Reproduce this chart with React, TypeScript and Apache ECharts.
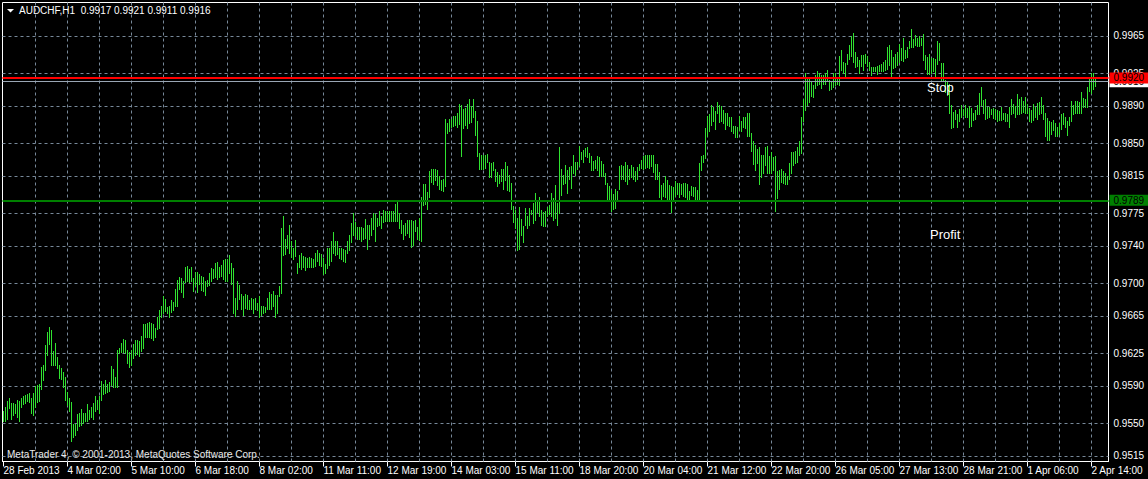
import React, { useEffect, useRef } from "react";
import * as echarts from "echarts";

const SYMBOL = "AUDCHF,H1";
const LAST_OHLC = [0.9917, 0.9921, 0.9911, 0.9916];
const TIME_LABELS = [
  "28 Feb 2013", "4 Mar 02:00", "5 Mar 10:00", "6 Mar 18:00", "8 Mar 02:00",
  "11 Mar 11:00", "12 Mar 19:00", "14 Mar 03:00", "15 Mar 11:00", "18 Mar 20:00",
  "20 Mar 04:00", "21 Mar 12:00", "22 Mar 20:00", "26 Mar 05:00", "27 Mar 13:00",
  "28 Mar 21:00", "1 Apr 06:00", "2 Apr 14:00",
];
const BARS_PER_LABEL = 32;
const BARS_PER_GRID = 16;
const SHIFT_SLOTS = 6;
const PRICE_TICKS = [
  "0.9965", "0.9925", "0.9890", "0.9850", "0.9815", "0.9775", "0.9740",
  "0.9700", "0.9665", "0.9625", "0.9590", "0.9550", "0.9515",
];
const STOP_PRICE = 0.992;
const PROFIT_PRICE = 0.9789;
const BID_PRICE = 0.9916;
const Y_MIN = 0.950909;
const Y_MAX = 1.000089;
const PIP = 0.0001;

// hourly bar highs, in pips
const HIGH_PIPS = [
  9563,9568,9574,9577,9572,9572,9571,9575,9574,9577,
  9579,9580,9581,9583,9577,9583,9590,9591,9592,9610,
  9612,9634,9648,9653,9650,9628,9636,9621,9613,9609,
  9605,9600,9584,9577,9573,9549,9549,9560,9561,9565,
  9561,9561,9571,9564,9568,9572,9579,9575,9579,9595,
  9592,9596,9592,9594,9611,9608,9600,9629,9631,9636,
  9640,9639,9629,9626,9629,9635,9639,9639,9638,9644,
  9656,9656,9658,9659,9658,9656,9652,9664,9671,9676,
  9686,9683,9675,9676,9682,9680,9694,9704,9707,9706,
  9703,9718,9719,9715,9718,9706,9712,9712,9710,9708,
  9707,9702,9704,9711,9716,9715,9722,9723,9718,9720,
  9725,9726,9726,9730,9722,9716,9684,9702,9698,9689,
  9686,9689,9687,9682,9684,9683,9684,9679,9686,9676,
  9676,9675,9684,9691,9689,9692,9687,9688,9697,9759,
  9772,9747,9752,9763,9745,9738,9746,9722,9730,9732,
  9729,9728,9727,9728,9727,9726,9732,9736,9732,9731,
  9727,9721,9738,9738,9745,9755,9745,9745,9738,9738,
  9737,9736,9745,9752,9765,9775,9766,9760,9760,9760,
  9759,9769,9763,9763,9770,9775,9774,9770,9778,9772,
  9779,9777,9777,9778,9777,9777,9785,9787,9775,9768,
  9763,9765,9768,9768,9768,9767,9768,9760,9770,9793,
  9806,9806,9798,9820,9822,9822,9822,9821,9815,9811,
  9812,9876,9872,9876,9876,9879,9879,9883,9892,9891,
  9887,9888,9892,9897,9890,9897,9885,9874,9840,9837,
  9837,9838,9839,9830,9829,9830,9822,9819,9816,9823,
  9822,9830,9826,9816,9807,9783,9779,9770,9782,9769,
  9761,9781,9772,9781,9779,9786,9797,9787,9793,9779,
  9776,9777,9782,9784,9797,9791,9805,9786,9846,9823,
  9816,9827,9821,9825,9826,9837,9830,9830,9847,9841,
  9843,9845,9846,9840,9836,9831,9832,9836,9835,9831,
  9828,9818,9807,9804,9800,9796,9801,9799,9826,9827,
  9826,9830,9827,9823,9827,9825,9820,9825,9828,9832,
  9836,9837,9837,9838,9837,9837,9828,9828,9819,9805,
  9807,9815,9811,9805,9804,9803,9810,9808,9807,9806,
  9807,9808,9806,9799,9804,9803,9803,9800,9829,9836,
  9837,9866,9879,9881,9891,9889,9885,9894,9891,9890,
  9886,9883,9882,9878,9878,9869,9869,9867,9879,9874,
  9878,9878,9883,9883,9861,9853,9848,9844,9846,9838,
  9838,9846,9847,9836,9841,9835,9836,9820,9821,9822,
  9820,9818,9815,9829,9841,9841,9842,9846,9853,9878,
  9898,9925,9921,9919,9917,9913,9923,9927,9925,9923,
  9923,9925,9929,9918,9916,9925,9925,9920,9944,9950,
  9937,9936,9946,9955,9965,9968,9948,9942,9939,9945,
  9945,9946,9944,9937,9932,9932,9932,9933,9934,9935,
  9937,9939,9953,9955,9950,9943,9946,9948,9956,9952,
  9963,9950,9953,9960,9973,9962,9966,9963,9965,9963,
  9967,9945,9943,9946,9941,9941,9940,9960,9958,9936,
  9936,9918,9916,9914,9891,9884,9886,9881,9887,9891,
  9887,9891,9888,9890,9888,9883,9886,9891,9904,9910,
  9896,9897,9889,9889,9887,9888,9887,9886,9885,9889,
  9883,9883,9881,9889,9897,9892,9890,9903,9898,9900,
  9895,9900,9892,9888,9886,9892,9889,9893,9894,9900,
  9891,9883,9877,9874,9873,9875,9872,9867,9872,9881,
  9882,9878,9874,9878,9895,9891,9895,9895,9894,9905,
  9899,9898,9910,9919,9925,9925,9921,
];

// hourly bar lows, in pips
const LOW_PIPS = [
  9553,9552,9555,9566,9555,9559,9561,9557,9553,9568,
  9571,9572,9574,9573,9561,9559,9568,9573,9574,9587,
  9596,9607,9623,9635,9612,9612,9613,9609,9599,9597,
  9589,9575,9570,9563,9531,9535,9538,9543,9547,9548,
  9550,9553,9553,9555,9557,9555,9563,9565,9561,9575,
  9581,9582,9584,9585,9591,9589,9589,9589,9625,9626,
  9626,9625,9615,9610,9613,9620,9623,9624,9622,9628,
  9631,9643,9643,9642,9641,9639,9642,9651,9652,9664,
  9668,9670,9668,9664,9669,9671,9676,9676,9694,9691,
  9685,9701,9702,9701,9702,9692,9698,9691,9699,9693,
  9692,9688,9697,9698,9703,9706,9707,9705,9707,9708,
  9705,9703,9703,9711,9699,9668,9665,9672,9683,9672,
  9666,9674,9672,9673,9673,9668,9672,9671,9664,9666,
  9668,9669,9672,9673,9672,9676,9664,9668,9686,9690,
  9730,9731,9738,9732,9728,9726,9729,9711,9717,9715,
  9717,9714,9717,9718,9717,9717,9719,9724,9720,9719,
  9710,9711,9716,9720,9724,9732,9730,9731,9727,9726,
  9724,9723,9732,9736,9744,9752,9751,9747,9748,9745,
  9747,9749,9737,9748,9752,9758,9745,9761,9762,9759,
  9766,9767,9767,9767,9767,9767,9767,9767,9759,9754,
  9748,9752,9754,9750,9739,9741,9756,9748,9746,9745,
  9784,9785,9780,9793,9809,9806,9811,9805,9801,9800,
  9799,9804,9861,9863,9868,9869,9870,9868,9871,9836,
  9866,9870,9866,9872,9873,9878,9859,9836,9822,9822,
  9822,9824,9830,9814,9814,9821,9810,9804,9807,9810,
  9801,9811,9800,9799,9780,9766,9759,9736,9737,9752,
  9744,9763,9759,9763,9774,9765,9768,9776,9772,9763,
  9761,9761,9772,9774,9772,9768,9770,9762,9775,9795,
  9806,9807,9797,9812,9802,9818,9816,9822,9827,9833,
  9830,9836,9835,9830,9821,9821,9824,9821,9815,9815,
  9815,9806,9789,9790,9777,9780,9781,9790,9801,9812,
  9812,9810,9806,9812,9814,9812,9810,9812,9821,9824,
  9823,9824,9825,9824,9826,9819,9812,9812,9793,9790,
  9794,9793,9790,9790,9776,9788,9794,9796,9793,9796,
  9794,9792,9790,9790,9795,9794,9790,9790,9790,9821,
  9830,9834,9858,9863,9870,9874,9865,9882,9873,9874,
  9872,9865,9870,9869,9863,9861,9857,9857,9864,9863,
  9867,9866,9858,9858,9842,9828,9821,9829,9806,9814,
  9818,9827,9818,9818,9818,9821,9777,9791,9801,9809,
  9807,9806,9806,9812,9818,9827,9829,9830,9837,9840,
  9874,9886,9891,9894,9901,9900,9909,9912,9914,9909,
  9914,9914,9917,9907,9908,9910,9912,9914,9913,9929,
  9925,9921,9935,9940,9944,9937,9932,9933,9925,9933,
  9929,9936,9933,9929,9923,9927,9927,9924,9927,9927,
  9928,9929,9930,9934,9921,9931,9932,9934,9937,9939,
  9938,9941,9943,9952,9953,9953,9955,9954,9954,9955,
  9939,9930,9924,9924,9925,9927,9920,9935,9939,9918,
  9918,9905,9902,9883,9866,9868,9876,9868,9874,9878,
  9880,9878,9878,9867,9869,9875,9876,9881,9881,9891,
  9883,9876,9877,9878,9881,9877,9876,9874,9875,9875,
  9876,9874,9874,9868,9881,9882,9878,9881,9881,9883,
  9884,9882,9882,9874,9873,9875,9878,9876,9881,9883,
  9876,9858,9854,9854,9860,9864,9858,9858,9860,9865,
  9871,9867,9859,9870,9874,9881,9882,9882,9882,9883,
  9889,9889,9889,9906,9904,9908,9911,
];

const FONT = "'Liberation Sans', Arial, sans-serif";
const BAR_COLOR = "#30e230";
const GRID_COLOR = "#778899";

export default function App() {
  const ref = useRef<HTMLDivElement>(null);

  useEffect(() => {
    if (!ref.current) return;
    document.body.style.margin = "0";
    document.body.style.background = "#000";
    const chart = echarts.init(ref.current, undefined, { renderer: "svg" });

    const barCount = HIGH_PIPS.length;
    const slotCount = barCount + SHIFT_SLOTS;
    const categories: string[] = [];
    for (let i = 0; i < slotCount; i++) {
      const k = i / BARS_PER_LABEL;
      categories.push(i % BARS_PER_LABEL === 0 && k < TIME_LABELS.length ? TIME_LABELS[k] : "");
    }
    const labelInterval = (i: number) =>
      i % BARS_PER_LABEL === 0 && i / BARS_PER_LABEL < TIME_LABELS.length;

    const bars = HIGH_PIPS.map((h, i) => [i, LOW_PIPS[i] * PIP, h * PIP]);

    const gridLines: any[] = PRICE_TICKS.map((t) => ({
      yAxis: parseFloat(t),
      label: {
        show: true,
        position: "end",
        formatter: t,
        color: "#fff",
        fontSize: 10,
        fontFamily: FONT,
        distance: 5,
      },
    }));
    for (let i = BARS_PER_GRID; i < slotCount; i += BARS_PER_GRID) {
      gridLines.push({ xAxis: i, label: { show: false } });
    }

    const levelLine = (price: number, lineColor: string, boxColor: string, width: number) => ({
      yAxis: price,
      lineStyle: { color: lineColor, width, type: "solid" },
      label: {
        show: true,
        position: "end",
        formatter: price.toFixed(4),
        color: "#000",
        backgroundColor: boxColor,
        padding: [1, 4, 0, 4],
        fontSize: 10,
        lineHeight: 10,
        fontFamily: FONT,
        distance: 1,
      },
    });

    const markLineBase = (z: number) => ({
      silent: true,
      z,
      precision: 6,
      symbol: ["none", "none"],
      animation: false,
      emphasis: { disabled: true },
    });

    const titleText = `${SYMBOL}  ${LAST_OHLC.map((v) => v.toFixed(4)).join(" ")}`;

    chart.setOption({
      animation: false,
      backgroundColor: "#000",
      grid: {
        left: 2.5,
        right: 39.5,
        top: 2.5,
        bottom: 17.5,
        show: true,
        borderColor: "#ffffff",
        borderWidth: 1,
        backgroundColor: "transparent",
        containLabel: false,
        outerBoundsMode: "none",
      },
      xAxis: {
        type: "category",
        data: categories,
        boundaryGap: true,
        axisLine: { show: true, lineStyle: { color: "#fff", width: 1 } },
        axisTick: {
          show: true,
          alignWithLabel: true,
          interval: labelInterval,
          length: 5,
          lineStyle: { color: "#fff" },
        },
        axisLabel: {
          interval: labelInterval,
          color: "#fff",
          fontSize: 10,
          fontFamily: FONT,
          align: "left",
          margin: 4,
          hideOverlap: false,
        },
        splitLine: { show: false },
      },
      yAxis: {
        type: "value",
        min: Y_MIN,
        max: Y_MAX,
        scale: true,
        axisLine: { show: false },
        axisTick: { show: false },
        axisLabel: { show: false },
        splitLine: { show: false },
      },
      series: [
        {
          type: "line",
          data: [],
          silent: true,
          z: 1,
          markLine: {
            ...markLineBase(1),
            lineStyle: { color: GRID_COLOR, width: 1, type: [3, 3] },
            data: gridLines,
          },
        },
        {
          type: "custom",
          z: 2,
          silent: true,
          encode: { x: 0, y: [1, 2] },
          data: bars,
          renderItem: (params: any, api: any) => {
            const hi = api.coord([api.value(0), api.value(2)]);
            const lo = api.coord([api.value(0), api.value(1)]);
            const x = Math.floor(hi[0]);
            const y1 = Math.round(hi[1]);
            const y2 = Math.round(lo[1]);
            return {
              type: "rect",
              shape: { x, y: y1, width: 1, height: Math.max(1, y2 - y1 + 1) },
              style: { fill: BAR_COLOR },
            };
          },
        },
        {
          type: "line",
          data: [],
          silent: true,
          z: 3,
          markLine: { ...markLineBase(3), data: [levelLine(BID_PRICE, "#9aa6b4", "#ffffff", 1)] },
        },
        {
          type: "line",
          data: [],
          silent: true,
          z: 4,
          markLine: { ...markLineBase(4), data: [levelLine(PROFIT_PRICE, "#008000", "#008000", 2)] },
        },
        {
          type: "line",
          data: [],
          silent: true,
          z: 5,
          markLine: { ...markLineBase(5), data: [levelLine(STOP_PRICE, "#ff0000", "#ff0000", 2)] },
        },
      ],
      graphic: [
        {
          type: "polygon",
          shape: { points: [[7, 9], [14, 9], [10.5, 12.5]] },
          style: { fill: "#fff" },
          z: 10,
        },
        {
          type: "text",
          x: 19,
          y: 10,
          z: 10,
          style: { text: titleText, fill: "#fff", font: `10px ${FONT}`, verticalAlign: "middle", align: "left" },
        },
        {
          type: "text",
          x: 7,
          y: 454,
          z: 10,
          style: {
            text: "MetaTrader 4, © 2001-2013, MetaQuotes Software Corp.",
            fill: "#e8e8e8",
            font: `10px ${FONT}`,
            verticalAlign: "middle",
            align: "left",
          },
        },
        {
          type: "text",
          x: 927,
          y: 87,
          z: 10,
          style: { text: "Stop", fill: "#fff", font: `13px ${FONT}`, verticalAlign: "middle", align: "left" },
        },
        {
          type: "text",
          x: 930,
          y: 234,
          z: 10,
          style: { text: "Profit", fill: "#fff", font: `13px ${FONT}`, verticalAlign: "middle", align: "left" },
        },
      ],
    });

    return () => chart.dispose();
  }, []);

  return (
    <div
      ref={ref}
      style={{ position: "fixed", left: 0, top: 0, width: 1148, height: 479, background: "#000" }}
    />
  );
}
